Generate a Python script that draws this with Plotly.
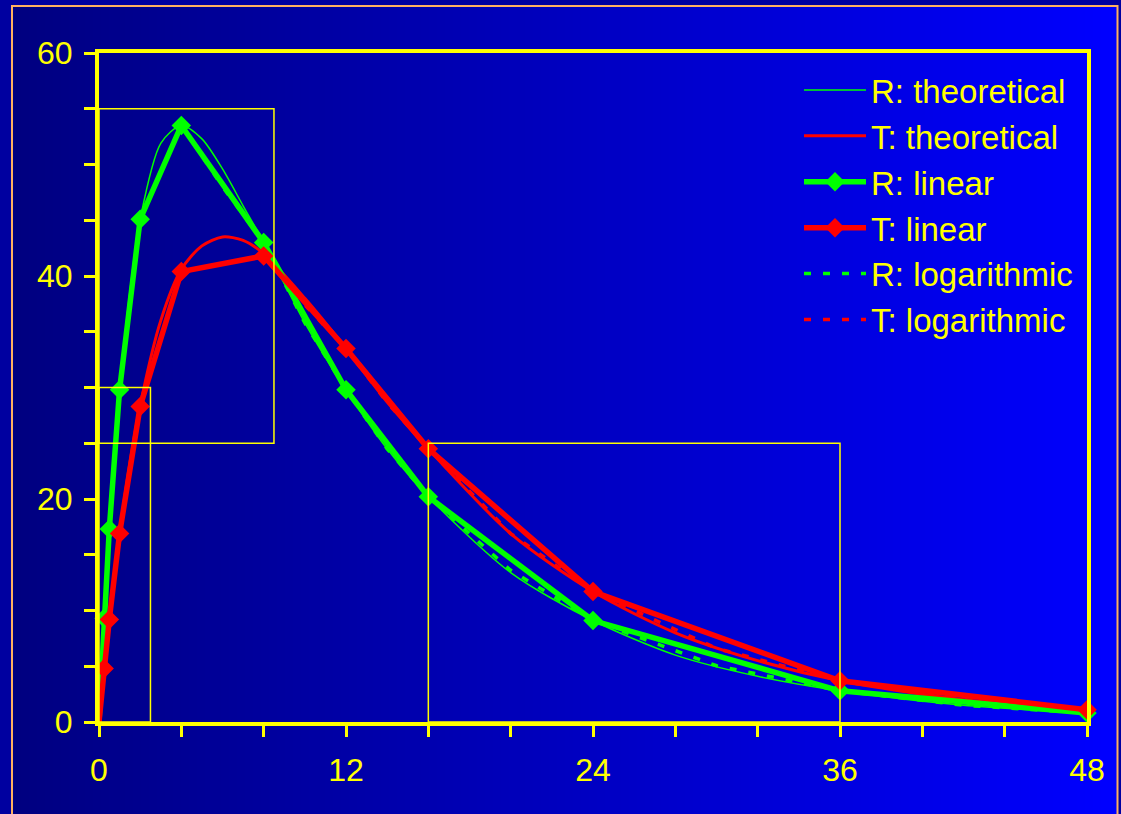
import plotly.graph_objects as go

# ---------------- data ----------------
sample_t = [0, 0.25, 0.5, 1, 2, 4, 8, 12, 16, 24, 36, 48]
r_linear = [0, 9.3, 17.3, 29.8, 45.1, 53.5, 43.0, 29.8, 20.2, 9.1, 2.8, 0.8]
t_linear = [0, 4.8, 9.2, 16.9, 28.3, 40.4, 41.8, 33.5, 24.5, 11.7, 3.7, 1.1]

theo_t = [0, 0.25, 0.5, 0.75, 1, 1.5, 2, 3, 4, 5, 6, 7, 8, 10, 12, 14, 16, 20, 24, 28, 32, 36, 42, 48]
r_theoretical = [0, 9.3, 17.3, 24.3, 29.8, 38.6, 45.1, 51.9, 53.5, 52.3, 49.6, 46.3, 43.0,
                 35.8, 29.8, 24.5, 20.2, 13.4, 9.1, 6.0, 4.1, 2.8, 1.5, 0.8]
t_theoretical = [0, 4.8, 9.2, 13.2, 16.9, 23.2, 28.4, 36.0, 40.6, 42.7, 43.5, 43.2, 42.0,
                 38.0, 33.5, 28.7, 24.5, 16.9, 11.7, 8.0, 5.5, 3.7, 2.0, 1.1]

r_log_t = [0, 0.25, 0.5, 1, 2, 4, 6, 8, 10, 12, 14, 16, 20, 24, 30, 36, 42, 48]
r_logarithmic = [0, 9.3, 17.3, 29.8, 45.1, 53.5, 48.0, 43.0, 35.8, 29.8, 24.5, 20.2,
                 13.6, 9.1, 5.05, 2.8, 1.5, 0.8]
t_log_t = [0, 0.25, 0.5, 1, 2, 4, 8, 10, 12, 14, 16, 20, 24, 30, 36, 42, 48]
t_logarithmic = [0, 4.8, 9.2, 16.9, 28.3, 40.4, 41.8, 37.4, 33.5, 28.65, 24.5, 16.9,
                 11.7, 6.6, 3.7, 2.0, 1.1]

# zoom-window rectangles (x0, y0, x1, y1) in data units
zoom_boxes = [(0, 25, 8.5, 55), (0, 0, 2.5, 30), (16, 0, 36, 25)]

x_ticks = [0, 12, 24, 36, 48]
y_ticks = [0, 20, 40, 60]

# ---------------- style ----------------
W, H = 1121, 814
ML, MR, MT, MB = 99, 34, 53, 92
PW, PH = W - ML - MR, H - MT - MB
YELLOW = "#FFFF00"
GREEN = "#00FF00"
RED = "#FF0000"
FONT = "Liberation Sans, Arial, sans-serif"


def px_to_paper_x(px):
    return (px - ML) / PW


def px_to_paper_y(py):
    return (H - MB - py) / PH


# markers shown on every sample except the origin
shown_markers = list(range(1, len(sample_t)))

fig = go.Figure()

# logarithmic series drawn first (underneath), but listed last in legend
fig.add_trace(go.Scatter(x=r_log_t, y=r_logarithmic, name="R: logarithmic", mode="lines",
                         line=dict(color=GREEN, width=3.5, dash="7px,12px"),
                         legendrank=5, cliponaxis=False))
fig.add_trace(go.Scatter(x=t_log_t, y=t_logarithmic, name="T: logarithmic", mode="lines",
                         line=dict(color=RED, width=3.5, dash="7px,12px"),
                         legendrank=6, cliponaxis=False))
fig.add_trace(go.Scatter(x=theo_t, y=r_theoretical, name="R: theoretical", mode="lines",
                         line=dict(color=GREEN, width=1.5, shape="spline", smoothing=0.8),
                         legendrank=1, cliponaxis=False))
fig.add_trace(go.Scatter(x=theo_t, y=t_theoretical, name="T: theoretical", mode="lines",
                         line=dict(color=RED, width=3, shape="spline", smoothing=0.8),
                         legendrank=2, cliponaxis=False))
fig.add_trace(go.Scatter(x=sample_t, y=r_linear, name="R: linear", mode="lines+markers",
                         line=dict(color=GREEN, width=5.5),
                         marker=dict(symbol="diamond", size=15, color=GREEN,
                                     line=dict(width=0, color=GREEN)),
                         selectedpoints=shown_markers,
                         selected=dict(marker=dict(opacity=1)),
                         unselected=dict(marker=dict(opacity=0)),
                         legendrank=3, cliponaxis=False))
fig.add_trace(go.Scatter(x=sample_t, y=t_linear, name="T: linear", mode="lines+markers",
                         line=dict(color=RED, width=5.5),
                         marker=dict(symbol="diamond", size=15, color=RED,
                                     line=dict(width=0, color=RED)),
                         selectedpoints=shown_markers,
                         selected=dict(marker=dict(opacity=1)),
                         unselected=dict(marker=dict(opacity=0)),
                         legendrank=4, cliponaxis=False))

shapes = []
# horizontal gradient background inside the slide frame
gx0, gx1 = 13, 1117
n = 138
step = (gx1 - gx0) / n
for i in range(n):
    a = gx0 + i * step
    b = a + step + 0.6
    frac = (i + 0.5) / n
    c = int(round(128 + 127 * frac))
    shapes.append(dict(type="rect", xref="paper", yref="paper",
                       x0=px_to_paper_x(a), x1=px_to_paper_x(b),
                       y0=px_to_paper_y(840), y1=px_to_paper_y(7),
                       fillcolor=f"rgb(0,0,{c})", line=dict(width=0), layer="below"))
# frame border
shapes.append(dict(type="rect", xref="paper", yref="paper",
                   x0=px_to_paper_x(12), x1=px_to_paper_x(1117.5),
                   y0=px_to_paper_y(840), y1=px_to_paper_y(6),
                   line=dict(color="#FFB060", width=2), fillcolor="rgba(0,0,0,0)",
                   layer="below"))
for (bx0, by0, bx1, by1) in zoom_boxes:
    shapes.append(dict(type="rect", xref="x", yref="y", x0=bx0, y0=by0, x1=bx1, y1=by1,
                       line=dict(color=YELLOW, width=1.5), fillcolor="rgba(0,0,0,0)",
                       layer="above"))

axis_common = dict(
    showgrid=False, zeroline=False, showline=True, linecolor=YELLOW, linewidth=4,
    mirror=True, ticks="outside", ticklen=11, tickwidth=3, tickcolor=YELLOW,
    tickfont=dict(family=FONT, size=32, color=YELLOW),
)

fig.update_layout(
    width=W, height=H,
    margin=dict(l=ML, r=MR, t=MT, b=MB, pad=0),
    paper_bgcolor="#0000A0",
    plot_bgcolor="rgba(0,0,0,0)",
    shapes=shapes,
    showlegend=True,
    hovermode=False,
    legend=dict(
        x=px_to_paper_x(799), y=px_to_paper_y(62), xanchor="left", yanchor="top",
        bgcolor="rgba(0,0,0,0)", borderwidth=0, itemwidth=62,
        font=dict(family=FONT, size=33, color=YELLOW),
    ),
    xaxis=dict(range=[0, 48], tickvals=x_ticks, ticktext=[str(v) for v in x_ticks],
               ticklabelstandoff=6,
               minor=dict(dtick=4, tick0=0, ticks="outside", ticklen=11, tickwidth=3,
                          tickcolor=YELLOW, showgrid=False),
               **axis_common),
    yaxis=dict(range=[0, 60], tickvals=y_ticks, ticktext=[str(v) for v in y_ticks],
               ticklabelstandoff=5,
               minor=dict(dtick=5, tick0=0, ticks="outside", ticklen=11, tickwidth=3,
                          tickcolor=YELLOW, showgrid=False),
               **axis_common),
)

fig.write_html(
    "out.html",
    config={"displayModeBar": False},
    post_script="document.body.style.margin='0';"
                "document.body.style.background='#0000A0';"
                "document.body.style.overflow='hidden';",
)
